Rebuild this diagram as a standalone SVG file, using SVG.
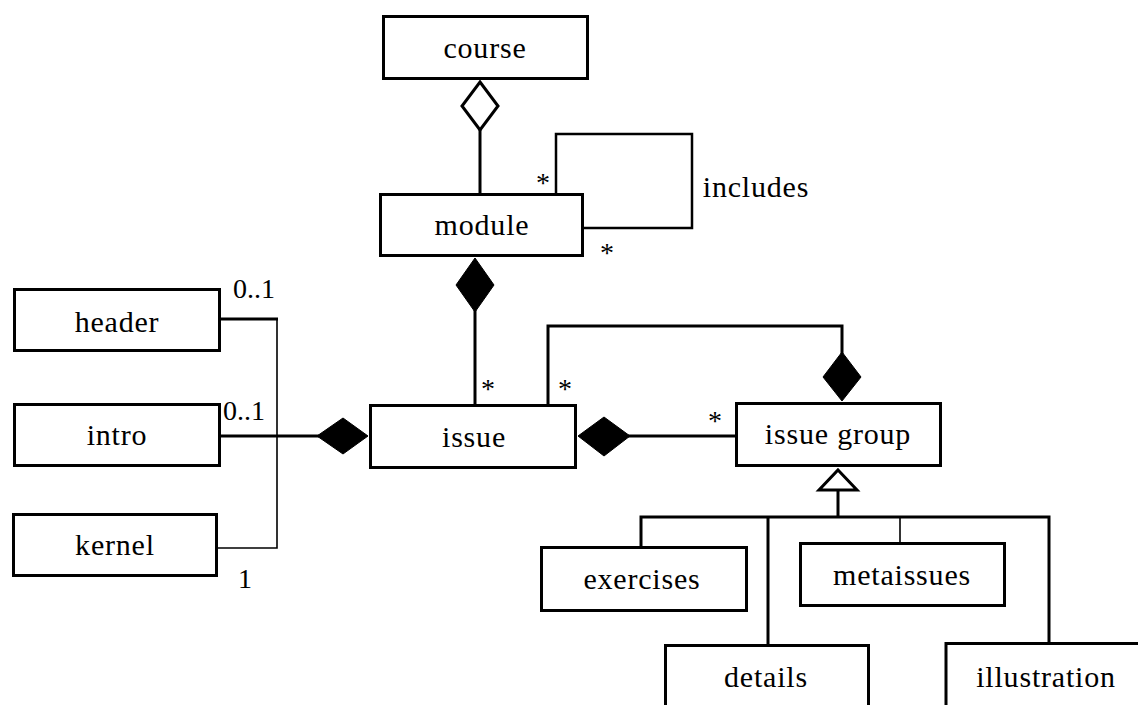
<svg xmlns="http://www.w3.org/2000/svg" width="1138" height="705" viewBox="0 0 1138 705">
<style>
.box{fill:#fff;stroke:#000;stroke-width:3}
.ln{fill:none;stroke:#000;stroke-width:3}
.thin{fill:none;stroke:#000;stroke-width:1.6}
.mid{fill:none;stroke:#000;stroke-width:2.5}
.fd{fill:#000;stroke:#000;stroke-width:1}
.od{fill:#fff;stroke:#000;stroke-width:3}
text{font-family:"Liberation Serif","Times New Roman",serif;fill:#000}
.lbl{font-size:30px;text-anchor:middle;letter-spacing:0.8px}
.m{font-size:28px}
.ast{font-size:28px;text-anchor:middle}
</style>
<rect width="1138" height="705" fill="#fff"/>
<g id="connectors">
  <line class="ln" x1="480" y1="130" x2="480" y2="193"/>
  <polygon class="od" points="480,82 498,106 480,130 462,106"/>
  <polyline class="mid" points="556,193 556,134 692,134 692,228 584,228"/>
  <line class="ln" x1="475" y1="310" x2="475" y2="404"/>
  <polygon class="fd" points="475,258 494,285 475,312 456,285"/>
  <polyline class="ln" points="548,404 548,326 842,326 842,354"/>
  <polygon class="fd" points="842,352 861,377 842,401 823,377"/>
  <line class="ln" x1="628" y1="436" x2="735" y2="436"/>
  <polygon class="fd" points="578,436 604,417 630,436 604,456"/>
  <line class="ln" x1="221" y1="436" x2="319" y2="436"/>
  <polygon class="fd" points="317,436 343,418 368,436 343,454"/>
  <line class="ln" x1="221" y1="319" x2="278" y2="319"/>
  <polyline class="thin" points="277,319 277,548 218,548"/>
  <line class="ln" x1="838" y1="490" x2="838" y2="517"/>
  <polygon class="od" points="838,470 857,490 819,490"/>
  <polyline class="ln" points="641,546 641,517 1049,517 1049,642"/>
  <line class="ln" x1="768" y1="517" x2="768" y2="644"/>
  <line class="thin" x1="900" y1="517" x2="900" y2="542"/>
  <text class="m" x="233" y="298">0..1</text>
  <text class="m" x="223" y="420">0..1</text>
  <text class="m" x="245" y="588" text-anchor="middle">1</text>
  <text class="lbl" x="756" y="197">includes</text>
  <text class="ast" x="543" y="192">*</text>
  <text class="ast" x="607" y="262">*</text>
  <text class="ast" x="488" y="398">*</text>
  <text class="ast" x="565" y="398">*</text>
  <text class="ast" x="715" y="430">*</text>
</g>
<g id="course"><rect class="box" x="383.5" y="16.5" width="204" height="62"/><text class="lbl" x="485" y="58">course</text></g>
<g id="module"><rect class="box" x="380.5" y="194.5" width="202" height="61"/><text class="lbl" x="482" y="235">module</text></g>
<g id="header"><rect class="box" x="14.5" y="289.5" width="205" height="61"/><text class="lbl" x="117" y="332">header</text></g>
<g id="intro"><rect class="box" x="14.5" y="404.5" width="205" height="61"/><text class="lbl" x="117" y="445">intro</text></g>
<g id="kernel"><rect class="box" x="13.5" y="514.5" width="203" height="61"/><text class="lbl" x="115" y="555">kernel</text></g>
<g id="issue"><rect class="box" x="370.5" y="405.5" width="205" height="62"/><text class="lbl" x="474" y="447">issue</text></g>
<g id="issue-group"><rect class="box" x="736.5" y="403.5" width="204" height="62"/><text class="lbl" x="838" y="444">issue group</text></g>
<g id="exercises"><rect class="box" x="541.5" y="547.5" width="205" height="63"/><text class="lbl" x="642" y="589">exercises</text></g>
<g id="metaissues"><rect class="box" x="800.5" y="543.5" width="204" height="62"/><text class="lbl" x="902" y="585">metaissues</text></g>
<g id="details"><rect class="box" x="665.5" y="645.5" width="203" height="80"/><text class="lbl" x="766" y="687">details</text></g>
<g id="illustration"><rect class="box" x="946" y="643.5" width="220" height="80"/><text class="lbl" x="1046" y="687">illustration</text></g>
</svg>
